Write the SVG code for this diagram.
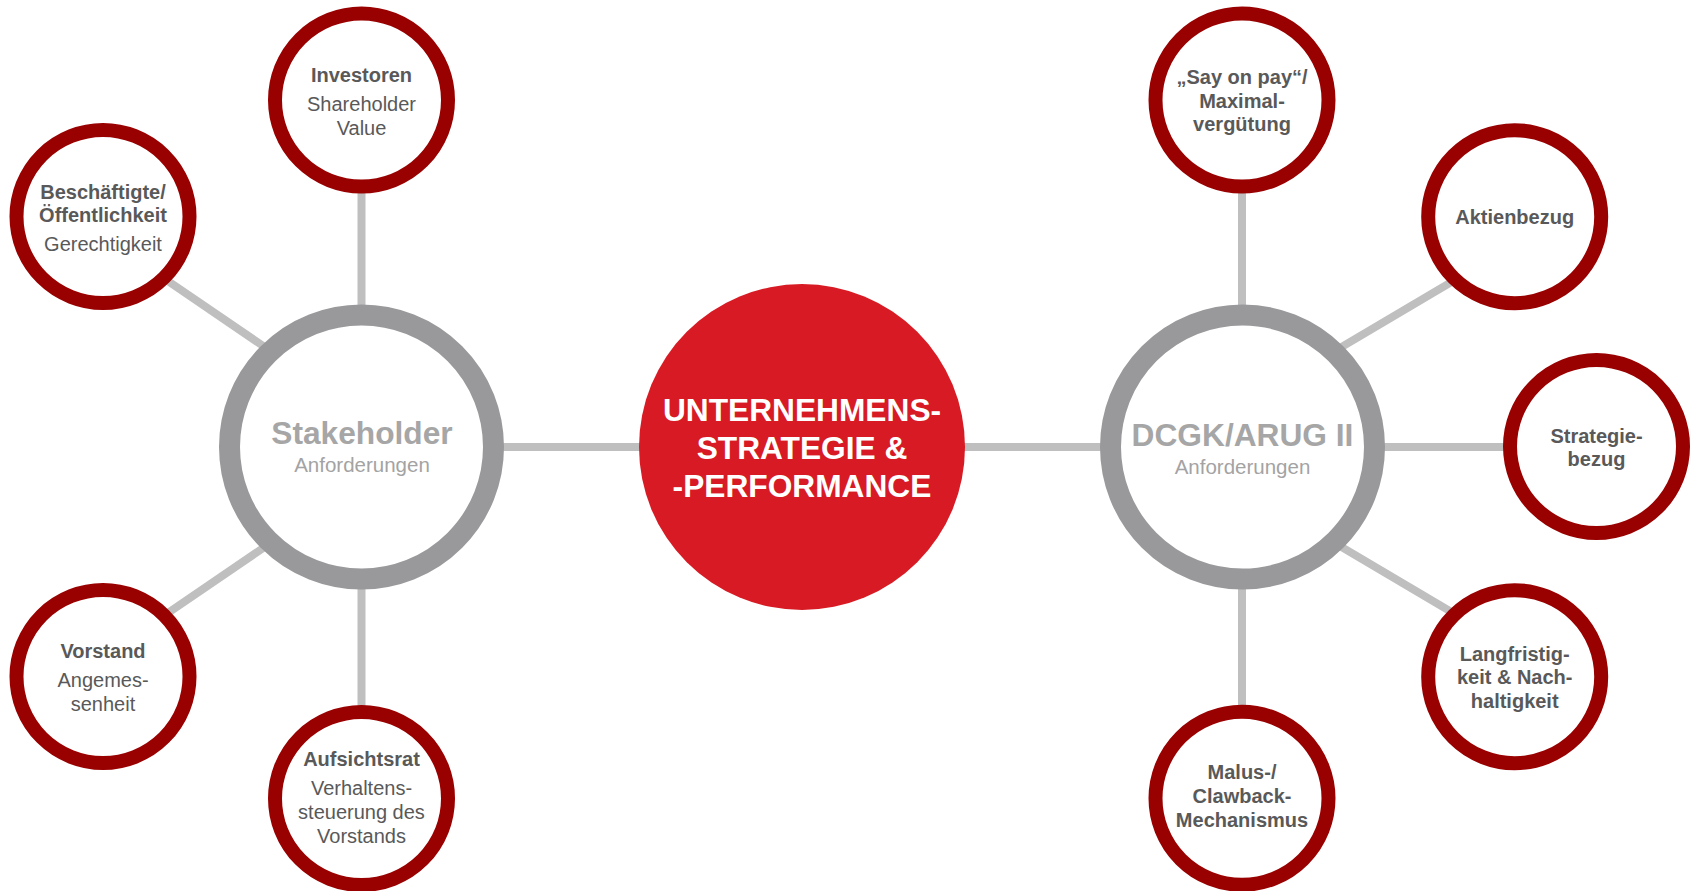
<svg xmlns="http://www.w3.org/2000/svg" width="1692" height="891" viewBox="0 0 1692 891">
  <style>
    .link { stroke: #bfbfbf; stroke-width: 8; fill: none; }
    .sat { fill: #ffffff; stroke: #990000; stroke-width: 14; }
    .hub { fill: #ffffff; stroke: #99999b; stroke-width: 21; }
    .core { fill: #d71a23; }
    text { font-family: "Liberation Sans", Arial, sans-serif; text-anchor: middle; }
    .b { font-size: 20px; font-weight: bold; fill: #595959; }
    .r { font-size: 20px; fill: #595959; }
    .hubTitle { font-size: 31.7px; font-weight: bold; fill: #a6a6a6; }
    .hubSub { font-size: 20.5px; fill: #a3a3a3; }
    .coreText { font-size: 31.7px; font-weight: bold; fill: #ffffff; }
  </style>

  <rect width="1692" height="891" fill="#ffffff"/>

  <!-- connectors -->
  <g id="connectors">
    <line class="link" x1="361.5" y1="185" x2="361.5" y2="312"/>
    <line class="link" x1="361.5" y1="582" x2="361.5" y2="712"/>
    <line class="link" x1="270.5" y1="351" x2="162" y2="277"/>
    <line class="link" x1="270.5" y1="543" x2="162" y2="617"/>
    <line class="link" x1="498" y1="447" x2="645" y2="447"/>
    <line class="link" x1="959" y1="447" x2="1106" y2="447"/>
    <line class="link" x1="1380" y1="447" x2="1512" y2="447"/>
    <line class="link" x1="1242" y1="185" x2="1242" y2="312"/>
    <line class="link" x1="1242" y1="582" x2="1242" y2="712"/>
    <line class="link" x1="1335.4" y1="350.6" x2="1457.6" y2="278.4"/>
    <line class="link" x1="1335.4" y1="543.4" x2="1457.6" y2="615.6"/>
  </g>

  <!-- central node -->
  <g id="node-core">
    <circle class="core" cx="802" cy="447" r="163"/>
    <text class="coreText" x="802" y="421">UNTERNEHMENS-</text>
    <text class="coreText" x="802" y="459">STRATEGIE &amp;</text>
    <text class="coreText" x="802" y="497">-PERFORMANCE</text>
  </g>

  <!-- hub: stakeholder -->
  <g id="node-stakeholder">
    <circle class="hub" cx="361.5" cy="447" r="132"/>
    <text class="hubTitle" x="362" y="444">Stakeholder</text>
    <text class="hubSub" x="362" y="471.5">Anforderungen</text>
  </g>

  <!-- hub: DCGK / ARUG II -->
  <g id="node-dcgk">
    <circle class="hub" cx="1242.5" cy="447" r="132"/>
    <text class="hubTitle" x="1242.5" y="445.5">DCGK/ARUG II</text>
    <text class="hubSub" x="1242.5" y="474">Anforderungen</text>
  </g>

  <!-- stakeholder satellites -->
  <g id="node-investoren">
    <circle class="sat" cx="361.5" cy="100" r="86.5"/>
    <text class="b" x="361.5" y="81.7">Investoren</text>
    <text class="r" x="361.5" y="111">Shareholder</text>
    <text class="r" x="361.5" y="135">Value</text>
  </g>

  <g id="node-beschaeftigte">
    <circle class="sat" cx="103" cy="216.5" r="86.5"/>
    <text class="b" x="103" y="199">Beschäftigte/</text>
    <text class="b" x="103" y="221.7">Öffentlichkeit</text>
    <text class="r" x="103" y="250.7">Gerechtigkeit</text>
  </g>

  <g id="node-vorstand">
    <circle class="sat" cx="103" cy="676.5" r="86.5"/>
    <text class="b" x="103" y="658.3">Vorstand</text>
    <text class="r" x="103" y="686.7">Angemes-</text>
    <text class="r" x="103" y="710.7">senheit</text>
  </g>

  <g id="node-aufsichtsrat">
    <circle class="sat" cx="361.5" cy="798.5" r="86.5"/>
    <text class="b" x="361.5" y="765.7">Aufsichtsrat</text>
    <text class="r" x="361.5" y="795">Verhaltens-</text>
    <text class="r" x="361.5" y="819">steuerung des</text>
    <text class="r" x="361.5" y="842.7">Vorstands</text>
  </g>

  <!-- DCGK satellites -->
  <g id="node-sayonpay">
    <circle class="sat" cx="1242" cy="100" r="86.5"/>
    <text class="b" x="1242" y="84">„Say on pay“/</text>
    <text class="b" x="1242" y="107.7">Maximal-</text>
    <text class="b" x="1242" y="131">vergütung</text>
  </g>

  <g id="node-aktienbezug">
    <circle class="sat" cx="1514.7" cy="216.7" r="86.5"/>
    <text class="b" x="1514.7" y="224">Aktienbezug</text>
  </g>

  <g id="node-strategiebezug">
    <circle class="sat" cx="1596.5" cy="446.5" r="86.5"/>
    <text class="b" x="1596.5" y="443">Strategie-</text>
    <text class="b" x="1596.5" y="466.3">bezug</text>
  </g>

  <g id="node-langfristigkeit">
    <circle class="sat" cx="1514.7" cy="676.7" r="86.5"/>
    <text class="b" x="1514.7" y="660.7">Langfristig-</text>
    <text class="b" x="1514.7" y="684.3">keit &amp; Nach-</text>
    <text class="b" x="1514.7" y="707.7">haltigkeit</text>
  </g>

  <g id="node-malus">
    <circle class="sat" cx="1242" cy="798.3" r="86.5"/>
    <text class="b" x="1242" y="779.3">Malus-/</text>
    <text class="b" x="1242" y="803.3">Clawback-</text>
    <text class="b" x="1242" y="827.3">Mechanismus</text>
  </g>
</svg>
